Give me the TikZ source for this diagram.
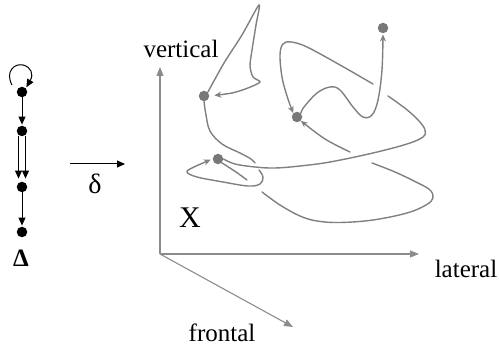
\documentclass[tikz,border=0pt]{standalone}
\usepackage{fontspec}
\setmainfont{Liberation Serif}
\usetikzlibrary{arrows.meta}
\definecolor{curvegray}{RGB}{128,128,128}
\definecolor{dotgray}{RGB}{120,120,120}
\definecolor{axisgray}{RGB}{140,140,140}
\begin{document}
\begin{tikzpicture}[x=1pt,y=-1pt,
  traj/.style={draw=curvegray,line width=1.4pt,line cap=round},
  trajarrow/.style={traj,-{Stealth[length=7pt,width=6pt]}},
  gdot/.style={circle,fill=dotgray,inner sep=0pt,minimum size=10.5pt},
  bdot/.style={circle,fill=black,inner sep=0pt,minimum size=10.5pt},
  axisline/.style={draw=axisgray,line width=1.1pt,-{Triangle[length=9pt,width=7pt]}},
  barrow/.style={draw=black,line width=1pt,-{Triangle[length=8pt,width=7pt]}},
  lbl/.style={font=\fontsize{25}{28}\selectfont,anchor=base,inner sep=0pt},
  biglbl/.style={font=\fontsize{30}{34}\selectfont,anchor=base,inner sep=0pt},
  deltalbl/.style={font=\bfseries\fontsize{25}{28}\selectfont,anchor=base,inner sep=0pt},
]
\useasboundingbox (0,0) rectangle (499,350);

% ---------- left column ----------
\node[bdot] (a1) at (22,92) {};
\node[bdot] (a2) at (22,131) {};
\node[bdot] (a3) at (22,187) {};
\node[bdot] (a4) at (22,232) {};
\node[deltalbl] (Dl) at (21,267) {Δ};
\draw[barrow,shorten >=1pt] (a1) -- (a2);
\draw[barrow,shorten >=3pt] ([xshift=-3.5pt]a2.south) -- ([xshift=-3.5pt]a3.north);
\draw[barrow,shorten >=3pt] ([xshift=3.5pt]a2.south) -- ([xshift=3.5pt]a3.north);
\draw[barrow,shorten >=1pt] (a3) -- (a4);
\coordinate (ls) at (12,85);
\draw[barrow,shorten >=1pt] (ls) .. controls (5,72) and (14,63) .. (23,65) .. controls (31,67) and (34,74) .. (a1.north east);

% ---------- delta map ----------
\coordinate (ds) at (70,164);
\coordinate (de) at (125,164);
\draw[barrow] (ds) -- (de);
\node[lbl,font=\fontsize{28}{30}\selectfont] (dl) at (95,194) {δ};

% ---------- axes ----------
\coordinate (O) at (160,254);
\coordinate (vt) at (160,67);
\coordinate (lt) at (419,254);
\coordinate (ft) at (293,327);
\draw[axisline] (O) -- (vt);
\draw[axisline] (O) -- (lt);
\draw[axisline] (O) -- (ft);
\node[lbl] (vl) at (181,58) {vertical};
\node[lbl] (ll) at (466,278) {lateral};
\node[lbl] (fl) at (222,342) {frontal};
\node[biglbl] (xl) at (190,228) {X};

% ---------- states ----------
\node[gdot] (d1) at (204,96) {};
\node[gdot] (d2) at (218,159) {};
\node[gdot] (d3) at (297,117) {};
\node[gdot] (d4) at (383,28) {};

% crossing gap ends
\coordinate (gB1) at (255,163);
\coordinate (gB2) at (259,170);
\coordinate (gC1) at (388,96);
\coordinate (gC2) at (373,84);
\coordinate (gD1) at (247,180);
\coordinate (gD2) at (262,192);
\coordinate (gD3) at (372,163);
\coordinate (gD4) at (350,152);

% path D (lowest)
\draw[traj] plot[smooth,tension=0.6] coordinates {(d2.south east) (236,172) (gD1)};
\draw[traj] plot[smooth,tension=0.6] coordinates {(gD2) (280,205) (300,216) (317,221) (340,222.5) (373,220) (407,213) (426,205) (433,198) (430,190) (418,183) (395,172) (gD3)};
\draw[trajarrow] plot[smooth,tension=0.6] coordinates {(gD4) (325,139) (d3.south east)};

% path A (spike)
\draw[trajarrow,shorten >=5pt] plot[smooth,tension=0.45] coordinates {(d1.north east) (224,63) (242,35) (259,5) (256,25) (252,50) (250,66) (253,77) (260,82) (248,88) (232,93) (d1.east)};

% path B (loop)
\draw[traj] plot[smooth,tension=0.6] coordinates {(d1.south) (206,115) (210,131) (222,144) (240,153) (251,159) (gB1)};
\draw[trajarrow,shorten >=2pt] plot[smooth,tension=0.6] coordinates {(gB2) (263,177) (260,184) (248,186) (223,182) (197,177) (187,172) (194,167) (d2.west)};

% path C
\draw[traj] plot[smooth,tension=0.6] coordinates {(d2.east) (235,164) (255,167) (275,168) (300,166) (330,162) (373,153) (407,144) (423,137) (425,130) (419,121) (406,109) (gC1)};
\draw[trajarrow] plot[smooth,tension=0.6] coordinates {(gC2) (340,65) (307,47) (291,42) (283,44) (280,55) (282,77) (287,96) (d3.north west)};

% path E
\draw[trajarrow,shorten >=1pt] plot[smooth,tension=0.6] coordinates {(d3.north east) (304,107) (317,93) (330,87) (340,90) (353,107) (363,117) (372,115) (378,100) (382,70) (d4.south)};
\end{tikzpicture}
\end{document}
